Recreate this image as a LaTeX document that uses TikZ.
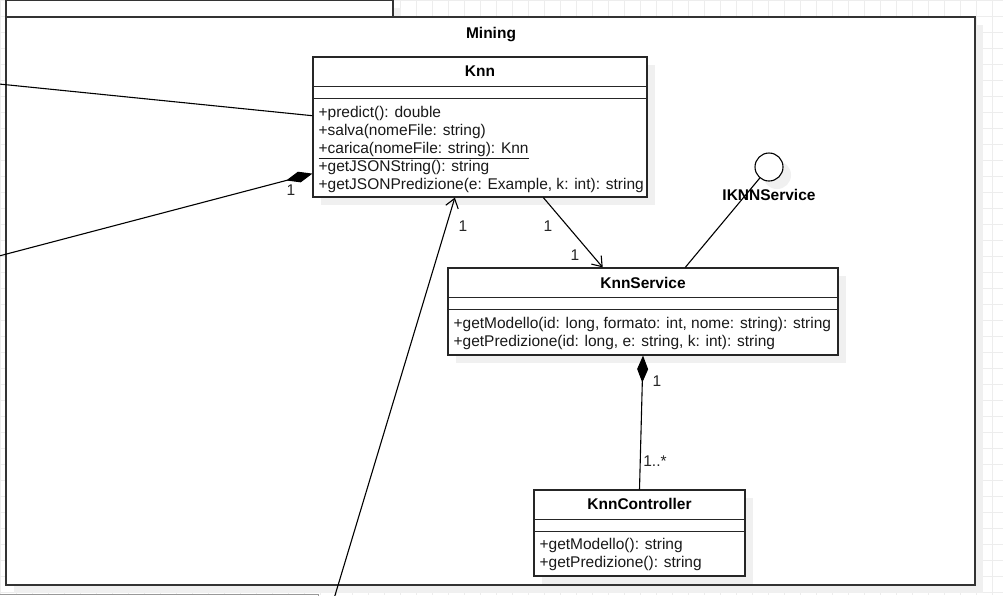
\documentclass[tikz,border=0pt]{standalone}
\usepackage{fontspec}
\setmainfont{Liberation Sans}
\usetikzlibrary{calc,arrows.meta,shadows}
\definecolor{gridgray}{RGB}{237,237,237}
\definecolor{framegray}{RGB}{51,51,51}
\definecolor{shadegray}{RGB}{240,240,240}
\tikzset{
  diag/.style={x=1pt,y=-1pt,font=\fontsize{15.5}{18}\selectfont},
  gridline/.style={draw=gridgray,line width=0.9pt},
  shade-box/.style={drop shadow={shadow xshift=8pt,shadow yshift=-8pt,fill=shadegray,opacity=1}},
  pkg/.style={draw=framegray,line width=1.8pt,fill=white,inner sep=0pt,shade-box},
  umlclass/.style={draw=black!85,line width=1.2pt,fill=white,inner sep=0pt,shade-box},
  classname/.style={font=\fontsize{15.5}{18}\selectfont\bfseries,inner sep=0pt,anchor=base},
  methods/.style={anchor=north west,align=left,inner sep=0pt,text=black!90},
  assoc/.style={line width=1.1pt},
  navig/.style={assoc,-{Straight Barb[length=9pt,width=13pt]}},
  compose/.style={assoc,{Diamond[length=27pt,width=11pt]}-},
  mult/.style={inner sep=0pt,text=black!85},
  lollipop/.style={circle,draw=black,line width=1.1pt,fill=white,minimum size=28pt,inner sep=0pt,shade-box}
}
% the two bars below the name of a class
\newcommand{\classbars}[1]{
  \draw[line width=1.2pt,black!85] ([yshift=-30pt]#1.north west) -- ([yshift=-30pt]#1.north east);
  \draw[line width=1.2pt,black!85] ([yshift=-42pt]#1.north west) -- ([yshift=-42pt]#1.north east);
}

\begin{document}
\begin{tikzpicture}[diag]
  \useasboundingbox (0,0) rectangle (1003,595);
  \clip (0,0) rectangle (1003,595);
  % background grid
  \foreach \gx in {0,16,...,1008} {
    \draw[gridline] (\gx,0) -- (\gx,595);
  }
  \foreach \gy in {0,16,...,592} {
    \draw[gridline] (0,\gy) -- (1003,\gy);
  }
  % element below the package, only its top edge shows
  \draw[draw=black!40,line width=1pt,fill=white] (-5,594) rectangle (318,640);

  % package Mining with its tab
  \node[pkg, minimum width=387pt, minimum height=17pt] (tab) at (199.5,8.5) {};
  \node[pkg, minimum width=969pt, minimum height=568pt] (mining) at (490.5,301) {};
  \node[classname] (mining-name) at (491,38) {Mining};

  % classes
  \node[umlclass, minimum width=334pt, minimum height=140pt] (knn) at (480,127) {};
  \classbars{knn}
  \node[classname] (knn-name) at ([yshift=-20pt]knn.north) {Knn};
  \node[methods] (knn-ops) at ([xshift=6pt,yshift=-49.5pt]knn.north west)
    {+predict(): double\\
     +salva(nomeFile: string)\\
     \underline{+carica(nomeFile: string): Knn}\\
     +getJSONString(): string\\
     +getJSONPredizione(e: Example, k: int): string};

  \node[umlclass, minimum width=390pt, minimum height=87pt] (svc) at (643,311.5) {};
  \classbars{svc}
  \node[classname] (svc-name) at ([yshift=-21pt]svc.north) {KnnService};
  \node[methods] (svc-ops) at ([xshift=6pt,yshift=-49.5pt]svc.north west)
    {+getModello(id: long, formato: int, nome: string): string\\
     +getPredizione(id: long, e: string, k: int): string};

  \node[umlclass, minimum width=211pt, minimum height=86pt] (ctrl) at (639.5,533) {};
  \classbars{ctrl}
  \node[classname] (ctrl-name) at ([yshift=-20pt]ctrl.north) {KnnController};
  \node[methods] (ctrl-ops) at ([xshift=6pt,yshift=-49pt]ctrl.north west)
    {+getModello(): string\\
     +getPredizione(): string};

  % provided interface
  \node[lollipop] (iknn) at (769,167) {};

  % connectors
  \coordinate (lftA) at (-1,84);
  \coordinate (lftB) at (-1,256);
  \coordinate (btm) at (334.5,597);
  \draw[assoc] (lftA) -- ($(knn.north west)!0.42!(knn.south west)$);
  \draw[compose] ($(knn.north west)!0.83!(knn.south west)$) -- (lftB);
  \draw[navig] (btm) -- ($(knn.south west)!0.425!(knn.south east)$);
  \draw[navig] ($(knn.south west)!0.689!(knn.south east)$) -- ($(svc.north west)!0.397!(svc.north east)$);
  \draw[assoc] (iknn) -- ($(svc.north west)!0.608!(svc.north east)$);
  \draw[compose] (svc.south) -- (ctrl.north);
  \node[classname] (iknn-name) at (769,200.5) {IKNNService};

  % multiplicities
  \node[mult] (m-knn-b) at (291,190) {1};
  \node[mult] (m-knn-c) at (463,226) {1};
  \node[mult] (m-knn-d) at (548,226) {1};
  \node[mult] (m-svc-a) at (575,255) {1};
  \node[mult] (m-svc-b) at (657,381) {1};
  \node[mult] (m-ctrl) at (655,461) {1..*};
\end{tikzpicture}
\end{document}
